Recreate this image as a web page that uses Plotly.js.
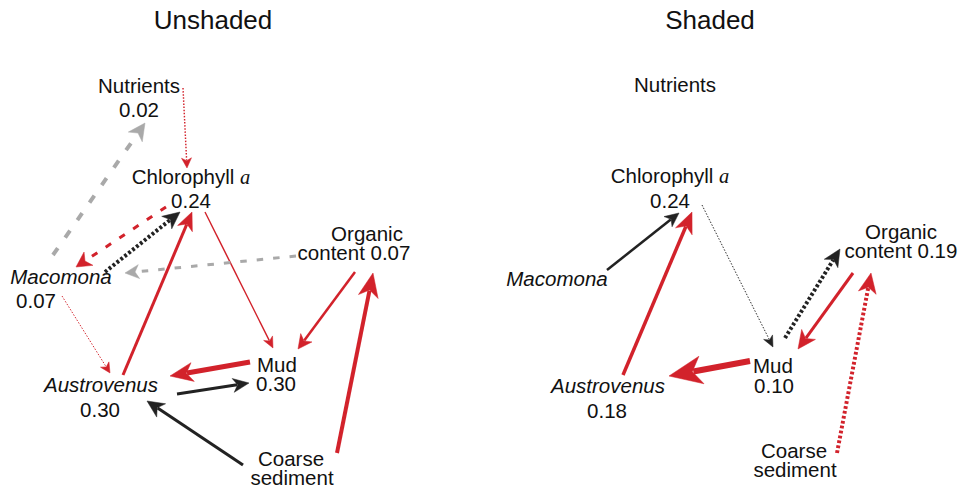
<!DOCTYPE html>
<html>
<head>
<meta charset="utf-8">
<script src="https://cdn.plot.ly/plotly-3.0.1.min.js"></script>
<style>html,body{margin:0;padding:0;background:#fff;}#chart{width:961px;height:486px;}</style>
</head>
<body>
<div id="chart"></div>
<script>
// ---------------- DATA ----------------
const panels = ["Unshaded", "Shaded"];
const nodeNames = ["Nutrients", "Chlorophyll a", "Organic content", "Macomona", "Austrovenus", "Mud", "Coarse sediment"];
const r2Unshaded = [0.02, 0.24, 0.07, 0.07, 0.30, 0.30, null];
const r2Shaded   = [null, 0.24, 0.19, null, 0.18, 0.10, null];

// paths (unshaded)
const fromUnshaded = ["Nutrients", "Macomona", "Chlorophyll a", "Macomona", "Austrovenus", "Chlorophyll a", "Organic content", "Organic content", "Coarse sediment", "Mud", "Austrovenus", "Coarse sediment", "Macomona"];
const toUnshaded   = ["Chlorophyll a", "Nutrients", "Macomona", "Chlorophyll a", "Chlorophyll a", "Mud", "Macomona", "Mud", "Organic content", "Austrovenus", "Mud", "Austrovenus", "Austrovenus"];
const coefUnshaded = [-0.12, 0.33, -0.25, 0.33, -0.25, -0.12, 0.25, -0.21, -0.33, -0.42, 0.25, 0.25, -0.08];
const evidenceUnshaded = ["dotted", "dashed", "dashed", "dotted", "solid", "solid", "dashed", "solid", "solid", "solid", "solid", "solid", "dotted"];
const uncertainUnshaded = [false, true, false, false, false, false, true, false, false, false, false, false, false];

// paths (shaded)
const fromShaded = ["Macomona", "Austrovenus", "Chlorophyll a", "Mud", "Organic content", "Mud", "Coarse sediment"];
const toShaded   = ["Chlorophyll a", "Chlorophyll a", "Mud", "Organic content", "Mud", "Austrovenus", "Organic content"];
const coefShaded = [0.21, -0.29, 0.08, 0.33, -0.25, -0.50, -0.33];
const evidenceShaded = ["solid", "solid", "dotted", "dotted", "solid", "solid", "dotted"];
const uncertainShaded = [false, false, false, false, false, false, false];

// ---------------- LAYOUT GEOMETRY (pixel space) ----------------
const geom = {
  Unshaded: {
    title: [213, 22],
    labels: {
      "Nutrients": [[139, 88], [139, 112]],
      "Chlorophyll a": [[191, 179], [191, 203]],
      "Organic content": [[367, 236], [354, 255]],
      "Macomona": [[61, 279], [36, 303]],
      "Austrovenus": [[101, 387], [100, 412]],
      "Mud": [[277, 367], [276, 386]],
      "Coarse sediment": [[291, 461], [292, 480]]
    },
    // start, tip, head length, head half-width
    edges: [
      [[183, 88], [187, 168], 10, 5],
      [[53, 255], [145, 123], 17, 8.5],
      [[166, 207], [76, 267], 15, 8],
      [[105, 272], [180, 212], 17, 8],
      [[123, 375], [192, 212], 18, 8],
      [[205, 212], [273, 348], 11, 5],
      [[296, 256], [125, 273], 14, 7],
      [[355, 272], [298, 349], 14, 7],
      [[337, 453], [373, 273], 24, 10],
      [[250, 362], [170, 376], 23, 9.5],
      [[177, 394], [249, 383], 16, 7],
      [[243, 465], [147, 401], 17, 8],
      [[62, 296], [110, 373], 10, 5]
    ]
  },
  Shaded: {
    title: [710, 22],
    labels: {
      "Nutrients": [[675, 87]],
      "Chlorophyll a": [[670, 178], [670, 203]],
      "Organic content": [[901, 234], [901, 253]],
      "Macomona": [[557, 281]],
      "Austrovenus": [[608, 388], [607, 413]],
      "Mud": [[773, 368], [774, 388]],
      "Coarse sediment": [[794, 453], [795, 472]]
    },
    edges: [
      [[607, 270], [679, 213], 14, 6.5],
      [[623, 375], [692, 212], 21, 9],
      [[702, 205], [773, 347], 11, 5],
      [[785, 338], [840, 249], 17, 8],
      [[853, 273], [798, 349], 18, 8.5],
      [[750, 361], [669, 376], 33, 14],
      [[837, 453], [871, 273], 20, 9]
    ]
  }
};

const RED = "#d2222b", BLACK = "#222222", GRAY = "#a9a9a9";

// ---------------- BUILD ----------------
const traces = [];
const panelData = {
  Unshaded: {r2: r2Unshaded, from: fromUnshaded, to: toUnshaded, coef: coefUnshaded, ev: evidenceUnshaded, unc: uncertainUnshaded},
  Shaded: {r2: r2Shaded, from: fromShaded, to: toShaded, coef: coefShaded, ev: evidenceShaded, unc: uncertainShaded}
};

function dashFor(ev, w) {
  if (ev === "dotted") return Math.max(w * 0.7, 1.5).toFixed(1) + "px," + Math.max(w * 0.55, 1.6).toFixed(1) + "px";
  if (ev === "dashed") return (w * 2 + 0.5).toFixed(1) + "px," + (w * 3 + 1).toFixed(1) + "px";
  return "solid";
}

const textX = [], textY = [], textT = [];
panels.forEach(p => {
  const d = panelData[p], g = geom[p];
  d.from.forEach((f, i) => {
    const [s, t, L, W] = g.edges[i];
    const c = d.coef[i];
    const w = Math.abs(c) * 12;
    const color = d.unc[i] ? GRAY : (c < 0 ? RED : BLACK);
    const dx = t[0] - s[0], dy = t[1] - s[1];
    const len = Math.hypot(dx, dy);
    const ux = dx / len, uy = dy / len, nx = -uy, ny = ux;
    const endX = t[0] - ux * L * 0.75, endY = t[1] - uy * L * 0.75;
    traces.push({
      type: "scatter", mode: "lines", x: [s[0], endX], y: [s[1], endY],
      line: {color: color, width: w, dash: dashFor(d.ev[i], w)},
      hoverinfo: "skip", name: f + " → " + d.to[i]
    });
    const bx = t[0] - ux * L, by = t[1] - uy * L;
    const hx = [t[0], bx + nx * W, t[0] - ux * L * 0.72, bx - nx * W, t[0]];
    const hy = [t[1], by + ny * W, t[1] - uy * L * 0.72, by - ny * W, t[1]];
    traces.push({
      type: "scatter", mode: "lines", x: hx, y: hy, fill: "toself",
      fillcolor: color, line: {color: color, width: 0.5},
      hoverinfo: "skip"
    });
  });
  // node labels
  nodeNames.forEach((n, k) => {
    const pos = g.labels[n];
    const v = d.r2[k];
    let lines;
    const vs = v == null ? null : v.toFixed(2);
    if (n === "Chlorophyll a") lines = ["Chlorophyll <i><span style=\"font-family:Liberation Serif\">a</span></i>"];
    else if (n === "Macomona" || n === "Austrovenus") lines = ["<i>" + n + "</i>"];
    else if (n === "Organic content") lines = ["Organic", "content" + (vs ? " " + vs : "")];
    else if (n === "Coarse sediment") lines = ["Coarse", "sediment"];
    else lines = [n];
    if (vs && n !== "Organic content") lines.push(vs);
    lines.forEach((ln, j) => {
      if (!pos[j]) return;
      textX.push(pos[j][0]); textY.push(pos[j][1]); textT.push(ln);
    });
  });
});

traces.push({
  type: "scatter", mode: "text", x: textX, y: textY, text: textT,
  textposition: "middle center", cliponaxis: false,
  textfont: {family: "Liberation Sans, Arial, sans-serif", size: 20.5, color: "#111"},
  hoverinfo: "skip"
});
traces.push({
  type: "scatter", mode: "text",
  x: panels.map(p => geom[p].title[0]), y: panels.map(p => geom[p].title[1]),
  text: panels, textposition: "middle center", cliponaxis: false,
  textfont: {family: "Liberation Sans, Arial, sans-serif", size: 26, color: "#111"},
  hoverinfo: "skip"
});

const layout = {
  width: 961, height: 486,
  margin: {l: 0, r: 0, t: 0, b: 0, pad: 0},
  paper_bgcolor: "#ffffff", plot_bgcolor: "#ffffff",
  showlegend: false,
  xaxis: {range: [0, 961], visible: false, fixedrange: true},
  yaxis: {range: [486, 0], visible: false, fixedrange: true}
};

Plotly.newPlot("chart", traces, layout, {staticPlot: true, displayModeBar: false});
</script>
</body>
</html>
